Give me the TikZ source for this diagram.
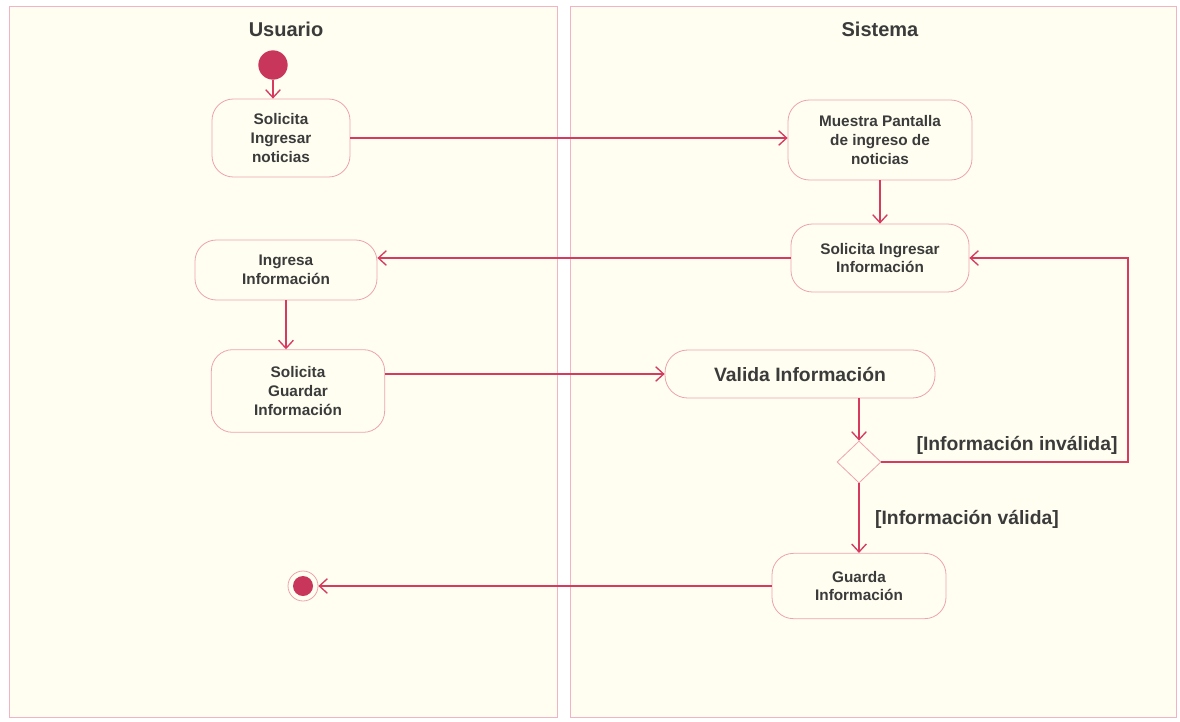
\documentclass[tikz,border=0pt]{standalone}
\usepackage{fontspec}
\setmainfont{Liberation Sans}
\usetikzlibrary{arrows.meta,shapes.geometric,calc}
\definecolor{lane}{HTML}{FFFEF1}
\definecolor{laneb}{HTML}{F0B4C4}
\definecolor{edge}{HTML}{D63A5E}
\definecolor{nodeb}{HTML}{EDA3AE}
\definecolor{dot}{HTML}{C9365B}
\definecolor{txt}{HTML}{3B3B3B}
\begin{document}
\begin{tikzpicture}[x=0.75pt,y=-0.75pt,
  lanebox/.style={draw=laneb, fill=lane, line width=0.6pt},
  title/.style={font=\bfseries\fontsize{15}{17}\selectfont, text=txt},
  act/.style={draw=nodeb, fill=lane, line width=0.6pt, rounded corners=16pt,
    align=center, font=\bfseries\fontsize{11.5}{14}\selectfont, text=txt, inner sep=2pt},
  bigact/.style={act, font=\bfseries\fontsize{14.5}{16}\selectfont},
  lbl/.style={font=\bfseries\fontsize{14.5}{16}\selectfont, text=txt, inner sep=0pt},
  arr/.style={draw=edge, line width=1pt, -{Straight Barb[length=6pt,width=11pt]}},
  decision/.style={diamond, draw=nodeb, fill=lane, line width=0.6pt, inner sep=0pt, minimum width=33pt, minimum height=31.5pt}
]
\useasboundingbox (0,0) rectangle (1180,721);
\fill[white] (0,0) rectangle (1180,721);
\draw[lanebox] (9,6) rectangle (557,717);
\draw[lanebox] (570,6) rectangle (1176,717);

\node[title] (t1) at (286,29) {Usuario};
\node[title] (t2) at (880,29) {Sistema};

\node[circle, fill=dot, minimum size=22pt, inner sep=0pt] (ini) at (273,65) {};
\node[act, minimum width=103.5pt, minimum height=58.5pt] (A) at (281,138) {Solicita\\Ingresar\\noticias};
\node[act, minimum width=138pt, minimum height=60pt] (B) at (880,140) {Muestra Pantalla\\de ingreso de\\noticias};
\node[act, minimum width=133.5pt, minimum height=51pt] (C) at (880,258) {Solicita Ingresar\\Información};
\node[act, minimum width=136.5pt, minimum height=45pt] (D) at (286,270) {Ingresa\\Información};
\node[act, minimum width=130pt, minimum height=62pt] (E) at (298,391) {Solicita\\Guardar\\Información};
\node[bigact, minimum width=202.5pt, minimum height=36pt, rounded corners=17pt] (F) at (800,374) {Valida Información};
\node[decision] (Dm) at (859,462) {};
\node[act, minimum width=130.5pt, minimum height=49pt] (G) at (859,586) {Guarda\\Información};
\node[circle, draw=nodeb, fill=lane, line width=0.6pt, minimum size=22.5pt, inner sep=0pt] (fin) at (303,586) {};
\node[circle, fill=dot, minimum size=15pt, inner sep=0pt] (finc) at (fin) {};
\coordinate (lp) at (1128,258);

\draw[arr] (ini.south) -- (ini.south |- A.north);
\draw[arr] (A.east) -- (A.east -| B.west);
\draw[arr] (B) -- (C);
\draw[arr] (C.west) -- (C.west -| D.east);
\draw[arr] (D.south) -- (D.south |- E.north);
\draw[arr] (E.east |- F.west) -- (F.west);
\draw[arr] (F.south -| Dm) -- (Dm.north);
\draw[arr] (Dm.east) -- (Dm.east -| lp) -- (lp) -- (C.east);
\draw[arr] (Dm.south) -- (G.north);
\draw[arr] (G.west) -- (fin.east);

\node[lbl] (l1) at (1017,445) {[Información inválida]};
\node[lbl] (l2) at (967,519) {[Información válida]};
\end{tikzpicture}
\end{document}
